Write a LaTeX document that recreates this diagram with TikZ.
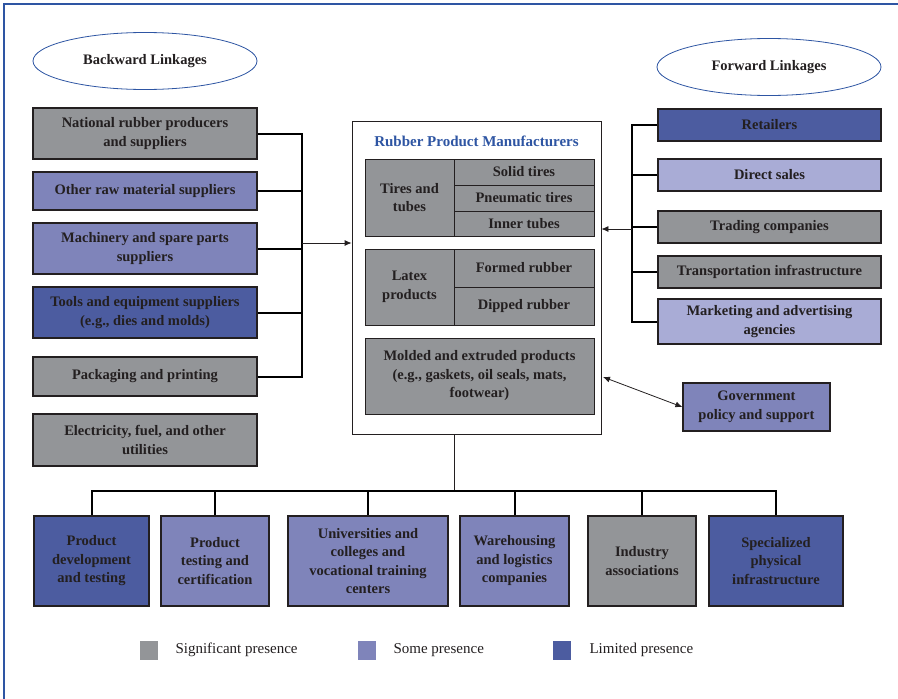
\documentclass[tikz,border=0pt]{standalone}
\usepackage{fontspec}
\setmainfont{Liberation Serif}
\usetikzlibrary{arrows.meta,shapes.geometric}

\definecolor{sig}{HTML}{939598}
\definecolor{some}{HTML}{7F84BA}
\definecolor{lim}{HTML}{4C5CA0}
\definecolor{lite}{HTML}{A9ACD6}
\definecolor{navy}{HTML}{2E55A3}
\definecolor{edge}{HTML}{231F20}

\tikzset{
  box/.style={draw=edge, line width=1.2pt, align=center, inner sep=2pt,
    text=edge, font=\fontsize{14.5}{18.5}\selectfont\bfseries},
  lbox/.style={box, minimum width=224pt},
  rbox/.style={box, minimum width=223pt},
  cell/.style={box, fill=sig, line width=1pt},
  link/.style={draw=navy, line width=0.8pt, ellipse, minimum width=224pt,
    minimum height=57pt, text=edge, font=\fontsize{14.5}{17}\selectfont\bfseries},
  bus/.style={line width=2pt, draw=black},
  arr/.style={line width=0.8pt, draw=edge, -{Latex[length=7pt,width=6pt]}},
  key/.style={minimum width=18pt, minimum height=19pt, inner sep=0pt},
  keytext/.style={anchor=west, text=edge, font=\fontsize{15}{17}\selectfont}
}

\begin{document}
\begin{tikzpicture}[x=1pt, y=-1pt]
  \useasboundingbox (0,0) rectangle (898,699);
  \fill[white] (0,0) rectangle (898,699);
  % frame
  \draw[navy, line width=1.2pt] (4,699) -- (4,4) -- (898,4);

  \node[link] (back) at (145,61) {Backward Linkages};
  \node[link] (fwd) at (769,67) {Forward Linkages};

  % backward side
  \node[lbox, fill=sig, minimum height=51pt] (nat) at (145,133.5) {National rubber producers\\and suppliers};
  \node[lbox, fill=some, minimum height=38pt] (raw) at (145,191) {Other raw material suppliers};
  \node[lbox, fill=some, minimum height=51pt] (mach) at (145,248.5) {Machinery and spare parts\\suppliers};
  \node[lbox, fill=lim, minimum height=51pt] (tool) at (145,312.5) {Tools and equipment suppliers\\(e.g., dies and molds)};
  \node[lbox, fill=sig, minimum height=39pt] (pack) at (145,376.5) {Packaging and printing};
  \node[lbox, fill=sig, minimum height=52pt] (elec) at (145,440) {Electricity, fuel, and other\\utilities};

  % manufacturers
  \node[draw=edge, line width=0.8pt, minimum width=249pt, minimum height=313pt] (rpm) at (476.5,277.5) {};
  \node[text=navy, font=\fontsize{15}{17}\selectfont\bfseries] (title) at (476.5,141) {Rubber Product Manufacturers};
  \node[cell, minimum width=89pt, minimum height=77pt] (tt) at (409.5,197.5) {Tires and\\tubes};
  \node[cell, minimum width=140pt, minimum height=26pt] (solid) at (524,172) {Solid tires};
  \node[cell, minimum width=140pt, minimum height=26pt] (pneu) at (524,198) {Pneumatic tires};
  \node[cell, minimum width=140pt, minimum height=25pt] (inner) at (524,223.5) {Inner tubes};
  \node[cell, minimum width=89pt, minimum height=76pt] (latex) at (409.5,287) {Latex\\products};
  \node[cell, minimum width=140pt, minimum height=38pt] (formed) at (524,268) {Formed rubber};
  \node[cell, minimum width=140pt, minimum height=38pt] (dipped) at (524,306) {Dipped rubber};
  \node[cell, minimum width=229pt, minimum height=76pt] (mold) at (479.5,376) {Molded and extruded products\\(e.g., gaskets, oil seals, mats,\\footwear)};

  % forward side
  \node[rbox, fill=lim, minimum height=32pt] (ret) at (769.5,125) {Retailers};
  \node[rbox, fill=lite, minimum height=32pt] (dir) at (769.5,175) {Direct sales};
  \node[rbox, fill=sig, minimum height=32pt] (trd) at (769.5,227) {Trading companies};
  \node[rbox, fill=sig, minimum height=32pt] (trn) at (769.5,272) {Transportation infrastructure};
  \node[rbox, fill=lite, minimum height=45pt] (mkt) at (769.5,321.5) {Marketing and advertising\\agencies};
  \node[box, fill=some, minimum width=147pt, minimum height=48pt] (gov) at (756.5,407) {Government\\policy and support};

  % support institutions
  \node[box, fill=lim, minimum width=115pt, minimum height=90pt] (pd) at (91.5,561) {Product\\development\\and testing};
  \node[box, fill=some, minimum width=108pt, minimum height=90pt] (ptc) at (215,561) {Product\\testing and\\certification};
  \node[box, fill=some, minimum width=160pt, minimum height=90pt] (uni) at (368,561) {Universities and\\colleges and\\vocational training\\centers};
  \node[box, fill=some, minimum width=109pt, minimum height=90pt] (wh) at (514.5,561) {Warehousing\\and logistics\\companies};
  \node[box, fill=sig, minimum width=108pt, minimum height=90pt] (ia) at (642,561) {Industry\\associations};
  \node[box, fill=lim, minimum width=134pt, minimum height=90pt] (spi) at (776,561) {Specialized\\physical\\infrastructure};

  % connectors
  \coordinate (bk) at (302,243);
  \coordinate (fk) at (632,229);
  \coordinate (hub) at (454,491);
  \coordinate (gp) at (603,377);
  \foreach \n in {nat,raw,mach,tool,pack}
    \draw[bus] (\n.east) -| (bk);
  \draw[arr] (bk) -- (bk -| rpm.west);
  \foreach \n in {ret,dir,trd,trn,mkt}
    \draw[bus] (\n.west) -| (fk);
  \draw[arr] (fk) -- (fk -| rpm.east);
  \draw[arr, {Latex[length=7pt,width=6pt]}-{Latex[length=7pt,width=6pt]}] (gp) -- (gov.west);
  \draw[line width=0.8pt, draw=edge] (hub |- rpm.south) -- (hub);
  \foreach \n in {pd,ptc,uni,wh,ia,spi}
    \draw[bus] (hub) -| (\n.north);

  % legend
  \node[key, fill=sig] (k1) at (149,650) {};
  \node[keytext] (t1) at (172,650) {Significant presence};
  \node[key, fill=some] (k2) at (367,650) {};
  \node[keytext] (t2) at (390,650) {Some presence};
  \node[key, fill=lim] (k3) at (562,650) {};
  \node[keytext] (t3) at (586,650) {Limited presence};
\end{tikzpicture}
\end{document}
